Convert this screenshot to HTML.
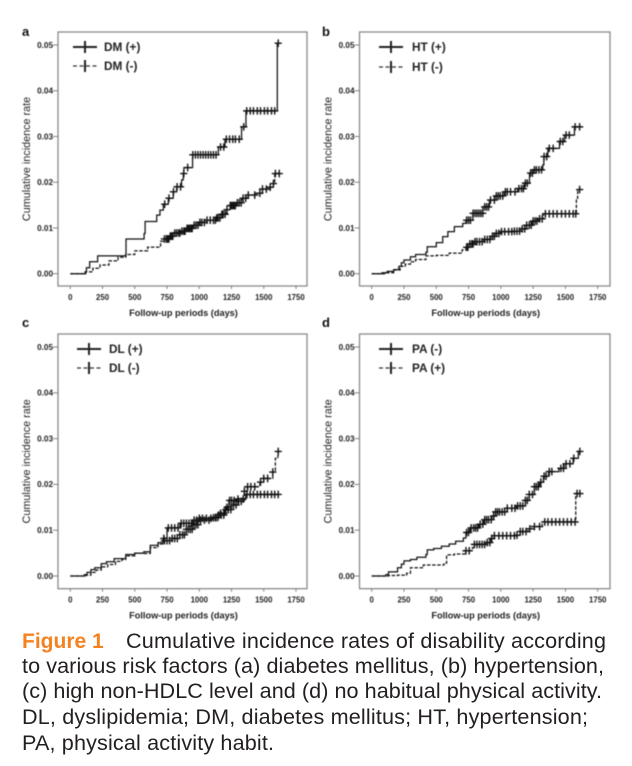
<!DOCTYPE html>
<html lang="en">
<head>
<meta charset="utf-8">
<title>Cumulative incidence rates of disability</title>
<style>
html,body{margin:0;padding:0;background:#fff;}
#figure{display:block;width:632px;height:766px;}
#charts{filter:blur(0.4px);}
text{font-family:"Liberation Sans",Arial,sans-serif;}
</style>
</head>
<body>
<svg id="figure" width="632" height="766" viewBox="0 0 632 766" xmlns="http://www.w3.org/2000/svg">
  <g id="charts"></g>
  <g id="caption" font-size="21.6" fill="#231f20">
    <text x="22" y="648" font-size="21"><tspan font-weight="bold" fill="#f58220">Figure 1</tspan></text>
    <text x="126" y="648" textLength="480" lengthAdjust="spacing">Cumulative incidence rates of disability according</text>
    <text x="22" y="673" textLength="582" lengthAdjust="spacing">to various risk factors (a) diabetes mellitus, (b) hypertension,</text>
    <text x="22" y="698" textLength="580" lengthAdjust="spacing">(c) high non-HDLC level and (d) no habitual physical activity.</text>
    <text x="22" y="724" textLength="566" lengthAdjust="spacing">DL, dyslipidemia; DM, diabetes mellitus; HT, hypertension;</text>
    <text x="22" y="750" textLength="252" lengthAdjust="spacing">PA, physical activity habit.</text>
  </g>
</svg>
<script>
// Axis tick labels
var xTickLabels = [0, 250, 500, 750, 1000, 1250, 1500, 1750];
var yTickLabels = ["0.00", "0.01", "0.02", "0.03", "0.04", "0.05"];

// Panel a: DM (+)
var aSolidDays = [0, 115, 125, 150, 212, 432, 572, 580, 670, 695, 721, 760, 798, 825, 863, 876, 881, 948, 1148, 1199, 1328, 1362, 1605];
var aSolidRates = [0, 0.0004, 0.0013, 0.0026, 0.0039, 0.0076, 0.0088, 0.0114, 0.0128, 0.0139, 0.0152, 0.0165, 0.0179, 0.019, 0.0205, 0.0219, 0.0232, 0.026, 0.0277, 0.0294, 0.0321, 0.0356, 0.0504];
var aSolidCensored = [732, 765, 800, 828, 855, 880, 910, 950, 970, 990, 1010, 1030, 1050, 1070, 1090, 1110, 1130, 1165, 1190, 1210, 1235, 1260, 1280, 1310, 1345, 1368, 1395, 1420, 1450, 1475, 1505, 1530, 1560, 1585, 1612];
// Panel a: DM (-)
var aDashedDays = [0, 110, 120, 175, 230, 300, 370, 430, 500, 600, 700, 730, 770, 800, 860, 900, 950, 1000, 1060, 1130, 1170, 1210, 1240, 1290, 1330, 1370, 1440, 1490, 1540, 1575, 1585];
var aDashedRates = [0, 0, 0.0004, 0.0012, 0.0019, 0.0028, 0.0036, 0.0042, 0.005, 0.0058, 0.0071, 0.0076, 0.0082, 0.0089, 0.0093, 0.0099, 0.0106, 0.0112, 0.0117, 0.0122, 0.013, 0.014, 0.0149, 0.0155, 0.0165, 0.0172, 0.0176, 0.0185, 0.0189, 0.0197, 0.0219];
var aDashedCensored = [730, 745, 755, 765, 775, 785, 795, 810, 825, 840, 850, 865, 880, 890, 905, 915, 925, 935, 945, 960, 975, 990, 1005, 1020, 1040, 1060, 1085, 1110, 1125, 1135, 1145, 1160, 1175, 1185, 1200, 1215, 1240, 1250, 1260, 1270, 1280, 1295, 1310, 1325, 1340, 1360, 1380, 1430, 1470, 1490, 1520, 1550, 1575, 1590, 1620];

// Panel b: HT (+)
var bSolidDays = [0, 80, 120, 170, 210, 230, 250, 300, 340, 420, 430, 500, 550, 590, 640, 705, 730, 783, 861, 912, 951, 1028, 1130, 1183, 1222, 1248, 1325, 1333, 1364, 1454, 1493, 1570];
var bSolidRates = [0, 0.0002, 0.0005, 0.0009, 0.0016, 0.0024, 0.003, 0.0037, 0.0042, 0.0047, 0.0059, 0.0068, 0.0081, 0.0092, 0.0103, 0.011, 0.0117, 0.0132, 0.0146, 0.0161, 0.017, 0.0179, 0.0186, 0.0198, 0.022, 0.0227, 0.0238, 0.0256, 0.0274, 0.0289, 0.0303, 0.0321];
var bSolidCensored = [735, 750, 765, 785, 800, 815, 830, 845, 860, 875, 890, 905, 920, 950, 965, 980, 995, 1015, 1035, 1050, 1075, 1110, 1140, 1160, 1175, 1190, 1205, 1230, 1245, 1260, 1275, 1295, 1315, 1335, 1355, 1375, 1405, 1460, 1480, 1505, 1530, 1575, 1610];
// Panel b: HT (-)
var bDashedDays = [0, 100, 170, 220, 260, 300, 340, 420, 500, 600, 700, 730, 760, 800, 870, 920, 960, 1000, 1100, 1150, 1200, 1240, 1290, 1330, 1585, 1595];
var bDashedRates = [0, 0.0002, 0.0008, 0.0016, 0.0021, 0.0026, 0.0031, 0.0039, 0.004, 0.0045, 0.0052, 0.0058, 0.0065, 0.007, 0.0075, 0.0082, 0.0088, 0.0092, 0.0093, 0.0098, 0.0106, 0.0115, 0.012, 0.0131, 0.0165, 0.0184];
var bDashedCensored = [735, 745, 760, 775, 785, 800, 815, 835, 855, 875, 895, 915, 935, 950, 965, 985, 1005, 1030, 1060, 1085, 1105, 1125, 1145, 1165, 1185, 1200, 1220, 1235, 1250, 1265, 1280, 1300, 1320, 1345, 1375, 1405, 1435, 1470, 1500, 1530, 1560, 1580, 1610];

// Panel c: DL (+)
var cSolidDays = [0, 110, 130, 160, 190, 240, 280, 340, 430, 500, 570, 620, 680, 720, 750, 850, 950, 1000, 1100, 1150, 1200, 1230, 1290, 1360];
var cSolidRates = [0, 0.0003, 0.0008, 0.0014, 0.0018, 0.0027, 0.0031, 0.0038, 0.0047, 0.005, 0.0053, 0.0067, 0.0073, 0.0082, 0.0105, 0.0115, 0.0122, 0.0126, 0.0128, 0.0137, 0.015, 0.0165, 0.0168, 0.0178];
var cSolidCensored = [725, 760, 785, 810, 835, 860, 880, 900, 920, 940, 960, 980, 1000, 1025, 1055, 1090, 1125, 1145, 1165, 1190, 1215, 1235, 1250, 1270, 1300, 1340, 1370, 1395, 1420, 1450, 1475, 1505, 1530, 1560, 1585, 1612];
// Panel c: DL (-)
var cDashedDays = [0, 120, 160, 200, 240, 290, 350, 400, 430, 500, 570, 620, 680, 730, 790, 850, 900, 950, 1000, 1100, 1150, 1200, 1250, 1300, 1350, 1370, 1450, 1470, 1500, 1570, 1590, 1610];
var cDashedRates = [0, 0.0002, 0.0008, 0.0013, 0.002, 0.0025, 0.0032, 0.0036, 0.0044, 0.005, 0.0049, 0.0062, 0.007, 0.0077, 0.0082, 0.009, 0.0102, 0.0112, 0.0122, 0.0127, 0.0133, 0.0145, 0.0155, 0.0163, 0.0185, 0.0195, 0.0195, 0.0205, 0.0213, 0.0227, 0.0257, 0.0272];
var cDashedCensored = [730, 750, 770, 790, 810, 830, 850, 870, 885, 900, 915, 930, 945, 960, 975, 990, 1010, 1040, 1075, 1110, 1130, 1150, 1170, 1190, 1205, 1225, 1245, 1265, 1285, 1305, 1325, 1350, 1375, 1400, 1430, 1475, 1500, 1530, 1570, 1612];

// Panel d: PA (-)
var dSolidDays = [0, 110, 130, 200, 230, 250, 300, 350, 420, 430, 480, 540, 600, 650, 710, 730, 760, 830, 870, 930, 960, 1050, 1120, 1190, 1220, 1260, 1300, 1330, 1370, 1450, 1490, 1560, 1600];
var dSolidRates = [0, 0.0003, 0.0009, 0.0018, 0.0026, 0.0033, 0.0036, 0.0041, 0.0047, 0.0057, 0.006, 0.0065, 0.007, 0.0076, 0.0083, 0.0095, 0.0105, 0.0113, 0.0123, 0.0131, 0.014, 0.0148, 0.0153, 0.0165, 0.0178, 0.0195, 0.0205, 0.0218, 0.0228, 0.0235, 0.0245, 0.0257, 0.0272];
var dSolidCensored = [735, 750, 770, 790, 805, 820, 840, 860, 875, 890, 905, 925, 945, 960, 975, 990, 1010, 1030, 1050, 1085, 1110, 1130, 1150, 1170, 1190, 1205, 1220, 1245, 1260, 1275, 1290, 1310, 1335, 1350, 1375, 1395, 1465, 1485, 1505, 1535, 1565, 1612];
// Panel d: PA (+)
var dDashedDays = [0, 130, 200, 270, 300, 400, 560, 580, 640, 720, 780, 790, 880, 920, 950, 1110, 1150, 1210, 1260, 1320, 1580];
var dDashedRates = [0, 0.0001, 0.0002, 0.0006, 0.0018, 0.0024, 0.0028, 0.0046, 0.0048, 0.0055, 0.0062, 0.0069, 0.0073, 0.0082, 0.0088, 0.0089, 0.0097, 0.0103, 0.0108, 0.0118, 0.018];
var dDashedCensored = [730, 755, 795, 815, 835, 855, 875, 895, 915, 930, 950, 985, 1015, 1045, 1075, 1105, 1125, 1150, 1170, 1195, 1225, 1260, 1300, 1340, 1365, 1395, 1425, 1455, 1485, 1515, 1545, 1575, 1590, 1612];

var svgNs = "http://www.w3.org/2000/svg";
var charts = document.getElementById("charts");

function make(parent, tag, attrs, content) {
  var el = document.createElementNS(svgNs, tag);
  for (var key in attrs) { el.setAttribute(key, attrs[key]); }
  if (content !== undefined) { el.textContent = content; }
  parent.appendChild(el);
  return el;
}

function rateAt(days, rates, day) {
  var value = 0;
  for (var i = 0; i < days.length; i++) {
    if (days[i] <= day) { value = rates[i]; }
  }
  return value;
}

function drawSeries(group, days, rates, censored, dashed, name, xScale, yScale) {
  var lastDay = Math.max(days[days.length - 1], censored[censored.length - 1]);
  var d = "M" + xScale(days[0]) + " " + yScale(rates[0]);
  for (var i = 1; i < days.length; i++) {
    d += "H" + xScale(days[i]) + "V" + yScale(rates[i]);
  }
  d += "H" + xScale(lastDay);
  var line = make(group, "path", {d: d, fill: "none", stroke: "#111", "stroke-width": 1.25, "stroke-dasharray": dashed ? "3.5 1.6" : "none"});
  
  
  censored.forEach(function (day) {
    var cx = xScale(day);
    var cy = yScale(rateAt(days, rates, day));
    var mark = make(group, "path", {d: "M" + (cx - 3.6) + " " + cy + "H" + (cx + 3.6) + "M" + cx + " " + (cy - 3.8) + "V" + (cy + 3.8), fill: "none", stroke: "#111", "stroke-width": 1.4});
    
    
  });
}

function drawLegendEntry(group, x1, textX, y, label, dashed) {
  var entry = make(group, "g", {});
  
  
  make(entry, "line", {x1: x1, x2: x1 + 24, y1: y, y2: y, stroke: dashed ? "#333" : "#222", "stroke-width": dashed ? 1.2 : 2, "stroke-dasharray": dashed ? "4 2.5" : "none"});
  make(entry, "line", {x1: x1 + 12, x2: x1 + 12, y1: y - 6, y2: y + 6, stroke: "#222", "stroke-width": 2});
  make(entry, "text", {x: textX, y: y + 4, "font-size": 11.8, "font-weight": "bold", fill: "#222"}, label);
}

function drawPanel(p) {
  var g = make(charts, "g", {});
  
  

  var xScale = function (day) { return p.x0 + day * (p.x1750 - p.x0) / 1750; };
  var yScale = function (rate) { return p.y0 + rate * (p.y05 - p.y0) / 0.05; };

  var letter = make(g, "text", {x: p.letterX, y: p.letterY, "font-size": 13, "font-weight": "bold", fill: "#111"}, p.letter);
  
  

  var frame = make(g, "rect", {x: p.left, y: p.top, width: p.right - p.left, height: p.bottom - p.top, fill: "#fff", stroke: "#8a8a8a", "stroke-width": 1.3});
  
  

  xTickLabels.forEach(function (label) {
    var tick = make(g, "line", {x1: xScale(label), x2: xScale(label), y1: p.bottom, y2: p.bottom + 3, stroke: "#777", "stroke-width": 0.9});
    
    
    var text = make(g, "text", {x: xScale(label), y: p.bottom + 14, "font-size": 7.8, "font-weight": "bold", fill: "#222", "text-anchor": "middle"}, String(label));
    
    
  });

  yTickLabels.forEach(function (label) {
    var y = yScale(parseFloat(label));
    var tick = make(g, "line", {x1: p.left - 5, x2: p.left, y1: y, y2: y, stroke: "#777", "stroke-width": 0.9});
    
    
    var text = make(g, "text", {x: p.left - 5, y: y + 2.8, "font-size": 8.2, "font-weight": "bold", fill: "#222", "text-anchor": "end"}, label);
    
    
  });

  var xTitle = make(g, "text", {x: (p.left + p.right) / 2 + 1, y: p.bottom + 30, "font-size": 9.2, "font-weight": "bold", fill: "#222", "text-anchor": "middle"}, "Follow-up periods (days)");
  
  

  var yTitleX = p.left - 28;
  var yTitleY = (p.top + p.bottom) / 2;
  var yTitle = make(g, "text", {x: yTitleX, y: yTitleY, "font-size": 10.8, fill: "#222", "text-anchor": "middle", transform: "rotate(-90 " + yTitleX + " " + yTitleY + ")"}, "Cumulative incidence rate");
  
  

  drawSeries(g, p.solidDays, p.solidRates, p.solidCensored, false, p.solidName, xScale, yScale);
  drawSeries(g, p.dashedDays, p.dashedRates, p.dashedCensored, true, p.dashedName, xScale, yScale);

  drawLegendEntry(g, p.legendX, p.legendTextX, p.legendY1, p.solidLabel, false);
  drawLegendEntry(g, p.legendX, p.legendTextX, p.legendY2, p.dashedLabel, true);
}

drawPanel({letter: "a", letterX: 22, letterY: 36, left: 58, right: 307, top: 32, bottom: 286, x0: 70.3, x1750: 296, y0: 273.7, y05: 45,
  legendX: 73, legendTextX: 104, legendY1: 47, legendY2: 66, solidLabel: "DM (+)", dashedLabel: "DM (-)", solidName: "dm-positive", dashedName: "dm-negative",
  solidDays: aSolidDays, solidRates: aSolidRates, solidCensored: aSolidCensored, dashedDays: aDashedDays, dashedRates: aDashedRates, dashedCensored: aDashedCensored});

drawPanel({letter: "b", letterX: 322, letterY: 36, left: 359.5, right: 610, top: 32, bottom: 286, x0: 371.7, x1750: 597.7, y0: 273.7, y05: 45,
  legendX: 379, legendTextX: 412, legendY1: 47, legendY2: 67, solidLabel: "HT (+)", dashedLabel: "HT (-)", solidName: "ht-positive", dashedName: "ht-negative",
  solidDays: bSolidDays, solidRates: bSolidRates, solidCensored: bSolidCensored, dashedDays: bDashedDays, dashedRates: bDashedRates, dashedCensored: bDashedCensored});

drawPanel({letter: "c", letterX: 22, letterY: 327, left: 58, right: 307, top: 334, bottom: 588.7, x0: 70.3, x1750: 296, y0: 576, y05: 347,
  legendX: 77, legendTextX: 109, legendY1: 349, legendY2: 368, solidLabel: "DL (+)", dashedLabel: "DL (-)", solidName: "dl-positive", dashedName: "dl-negative",
  solidDays: cSolidDays, solidRates: cSolidRates, solidCensored: cSolidCensored, dashedDays: cDashedDays, dashedRates: cDashedRates, dashedCensored: cDashedCensored});

drawPanel({letter: "d", letterX: 322, letterY: 327, left: 359.5, right: 610, top: 334, bottom: 588.7, x0: 371.7, x1750: 597.7, y0: 576, y05: 347,
  legendX: 379, legendTextX: 412, legendY1: 349, legendY2: 368, solidLabel: "PA (-)", dashedLabel: "PA (+)", solidName: "pa-negative", dashedName: "pa-positive",
  solidDays: dSolidDays, solidRates: dSolidRates, solidCensored: dSolidCensored, dashedDays: dDashedDays, dashedRates: dDashedRates, dashedCensored: dDashedCensored});
</script>
</body>
</html>
